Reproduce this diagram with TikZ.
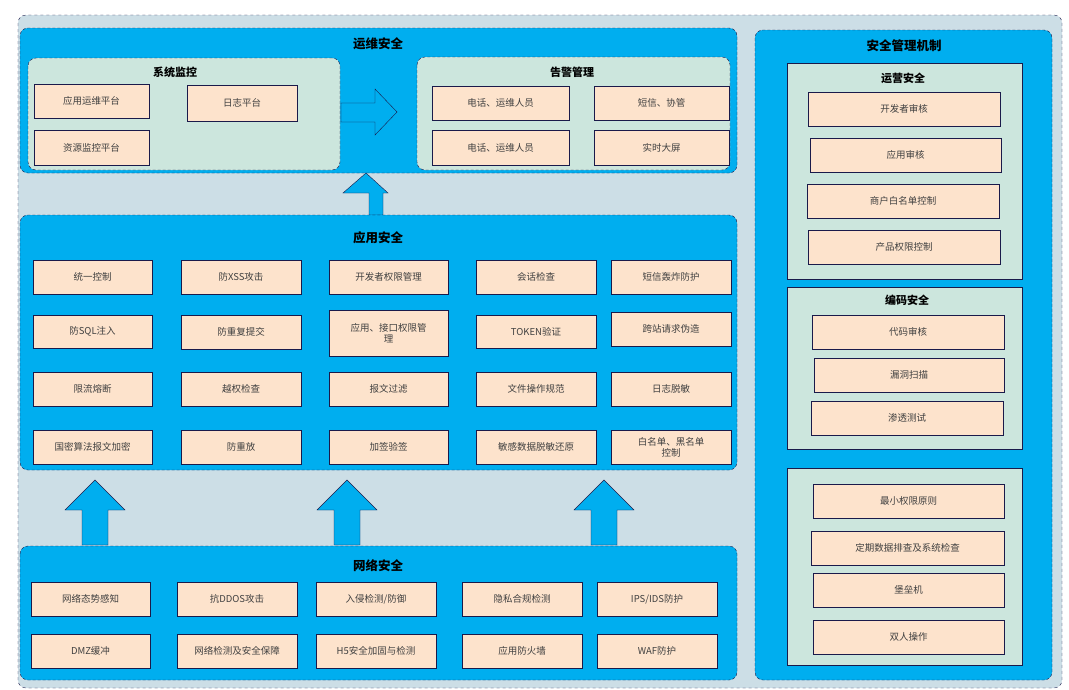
\documentclass[tikz,border=0pt]{standalone}
\usepackage{fontspec}
\setmainfont{Noto Sans CJK SC}
\usetikzlibrary{positioning}
\definecolor{bgpanel}{HTML}{CCDEE6}
\definecolor{bluezone}{HTML}{00AEEF}
\definecolor{greenpanel}{HTML}{CCE6DD}
\definecolor{peach}{HTML}{FDE3CC}
\definecolor{navy}{HTML}{1A1A4A}
\begin{document}
\begin{tikzpicture}[
  x=1pt, y=-1pt,
  outer/.style={fill=bgpanel, draw=navy, dashed, rounded corners=8pt},
  zone/.style={fill=bluezone, draw=navy, densely dashed, rounded corners=8pt},
  group/.style={fill=greenpanel, draw=navy, densely dashed, rounded corners=8pt},
  plain/.style={fill=greenpanel, draw=navy},
  item/.style={draw=navy, fill=peach, inner sep=1pt, align=center, font=\fontsize{9.5}{11}\selectfont, text=black!75},
  title/.style={font=\fontsize{12.5}{14}\selectfont\bfseries},
  subtitle/.style={font=\fontsize{11}{13}\selectfont\bfseries},
  bigarrow/.style={fill=bluezone, draw=navy, line join=miter}
]
%box macro: name, left, top, right, bottom, text
\newcommand{\bx}[6]{\node[item, minimum width=#4-#2, minimum height=#5-#3] (#1) at ({(#2+#4)/2},{(#3+#5)/2}) {#6};}
\useasboundingbox (0,0) rectangle (1069,689);

%background
\draw[outer] (18,15) rectangle (1062,688);

%运维安全
\draw[zone] (20,28) rectangle (737,173);
\node[title] (opsT) at (378,44) {运维安全};
\draw[group] (28,58) rectangle (340,170);
\node[subtitle] (monT) at (175,72) {系统监控};
\bx{mon1}{34}{84}{149}{118}{应用运维平台}
\bx{mon2}{187}{85}{297}{121}{日志平台}
\bx{mon3}{34}{130}{149}{165}{资源监控平台}
\draw[bigarrow] (341,103) -- (375,103) -- (375,89) -- (397,112) -- (375,135) -- (375,122) -- (341,122) -- cycle;
\draw[group] (417,57) rectangle (730,170);
\node[subtitle] (alarmT) at (572,72) {告警管理};
\bx{al1}{432}{86}{569}{120}{电话、运维人员}
\bx{al2}{594}{86}{729}{120}{短信、协管}
\bx{al3}{432}{130}{569}{165}{电话、运维人员}
\bx{al4}{594}{130}{729}{165}{实时大屏}

%up arrows
\draw[bigarrow] (369,215) -- (369,193) -- (343,193) -- (366,173) -- (388,193) -- (383,193) -- (383,215) -- cycle;
\foreach \ax in {95,347,604}
  \draw[bigarrow] (\ax-13,545) -- (\ax-13,510) -- (\ax-30,510) -- (\ax,480) -- (\ax+30,510) -- (\ax+13,510) -- (\ax+13,545) -- cycle;

%应用安全
\draw[zone] (20,215) rectangle (737,470);
\node[title] (appT) at (378,238) {应用安全};
\bx{a11}{33}{260}{152}{294}{统一控制}
\bx{a12}{181}{260}{301}{294}{防XSS攻击}
\bx{a13}{329}{260}{448}{294}{开发者权限管理}
\bx{a14}{476}{260}{596}{294}{会话检查}
\bx{a15}{611}{260}{731}{294}{短信轰炸防护}
\bx{a21}{33}{315}{152}{348}{防SQL注入}
\bx{a22}{181}{315}{301}{349}{防重复提交}
\bx{a23}{329}{310}{448}{356}{应用、接口权限管\\理}
\bx{a24}{476}{315}{596}{348}{TOKEN验证}
\bx{a25}{611}{312}{731}{346}{跨站请求伪造}
\bx{a31}{33}{372}{152}{406}{限流熔断}
\bx{a32}{181}{372}{301}{406}{越权检查}
\bx{a33}{329}{372}{448}{406}{报文过滤}
\bx{a34}{476}{372}{596}{406}{文件操作规范}
\bx{a35}{611}{372}{731}{406}{日志脱敏}
\bx{a41}{33}{430}{152}{464}{国密算法报文加密}
\bx{a42}{181}{430}{301}{464}{防重放}
\bx{a43}{329}{430}{448}{464}{加签验签}
\bx{a44}{476}{430}{596}{464}{敏感数据脱敏还原}
\bx{a45}{611}{430}{731}{464}{白名单、黑名单\\控制}

%网络安全
\draw[zone] (20,546) rectangle (737,680);
\node[title] (netT) at (378,566) {网络安全};
\bx{n11}{31}{582}{150}{616}{网络态势感知}
\bx{n12}{177}{582}{297}{616}{抗DDOS攻击}
\bx{n13}{316}{582}{436}{616}{入侵检测/防御}
\bx{n14}{462}{582}{582}{616}{隐私合规检测}
\bx{n15}{597}{582}{717}{616}{IPS/IDS防护}
\bx{n21}{31}{634}{150}{668}{DMZ缓冲}
\bx{n22}{177}{634}{297}{668}{网络检测及安全保障}
\bx{n23}{316}{634}{436}{668}{H5安全加固与检测}
\bx{n24}{462}{634}{582}{668}{应用防火墙}
\bx{n25}{597}{634}{717}{668}{WAF防护}

%安全管理机制
\draw[zone] (755,30) rectangle (1052,680);
\node[title] (mgmtT) at (904,46) {安全管理机制};
\draw[plain] (787,63) rectangle (1022,279);
\node[subtitle] (runT) at (903,78) {运营安全};
\bx{r1}{808}{92}{1000}{126}{开发者审核}
\bx{r2}{810}{138}{1001}{172}{应用审核}
\bx{r3}{807}{184}{999}{218}{商户白名单控制}
\bx{r4}{808}{230}{1000}{264}{产品权限控制}
\draw[plain] (787,287) rectangle (1022,449);
\node[subtitle] (codeT) at (907,300) {编码安全};
\bx{c1}{812}{315}{1004}{349}{代码审核}
\bx{c2}{814}{358}{1004}{392}{漏洞扫描}
\bx{c3}{811}{401}{1003}{435}{渗透测试}
\draw[plain] (787,468) rectangle (1022,665);
\bx{p1}{813}{484}{1004}{518}{最小权限原则}
\bx{p2}{811}{531}{1004}{565}{定期数据排查及系统检查}
\bx{p3}{813}{573}{1004}{607}{堡垒机}
\bx{p4}{813}{620}{1004}{654}{双人操作}
\end{tikzpicture}
\end{document}
